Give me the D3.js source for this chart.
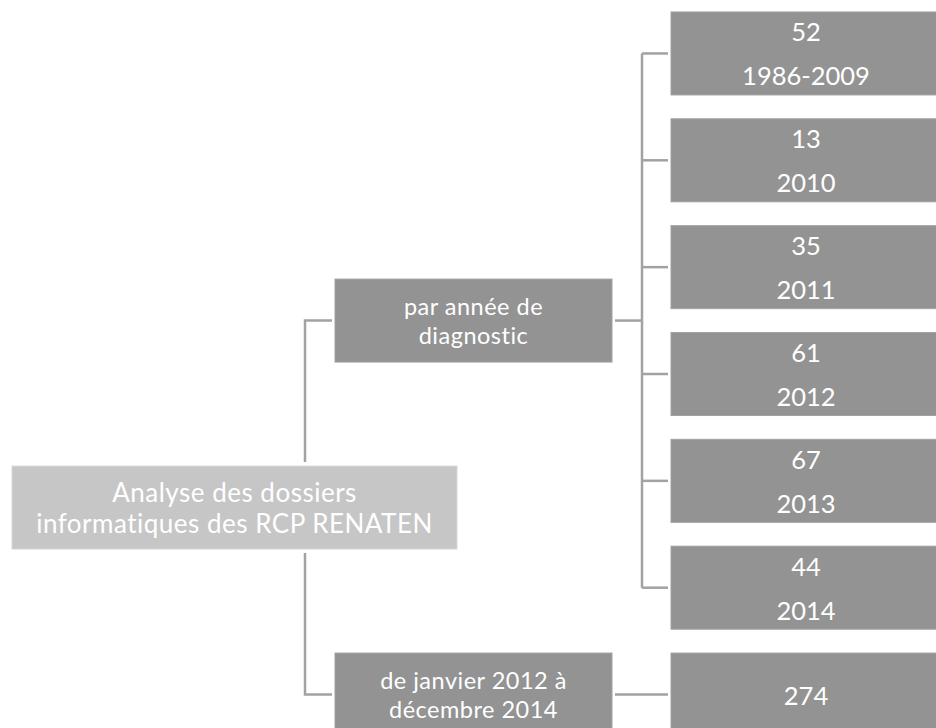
<!DOCTYPE html>
<html lang="fr">
  <head>
    <meta charset="utf-8">
    <title>RCP RENATEN</title>
    <script src="https://d3js.org/d3.v7.min.js"></script>
    <style>
      body { margin: 0; background: #fff; }
      text { font-family: Lato, 'Open Sans', sans-serif; fill: #fff; }
    </style>
  </head>
  <body>
    <script>
// données
const counts = [52, 13, 35, 61, 67, 44]
const periods = ['1986-2009', '2010', '2011', '2012', '2013', '2014']
const totalCount = 274
const rootLabel = ['Analyse des dossiers', 'informatiques des RCP RENATEN']
const branchLabels = [['par année de', 'diagnostic'], ['de janvier 2012 à', 'décembre 2014']]

const width = 936, height = 728
const boxH = 83
const gap = 3
const lineColor = '#a2a2a2'
const darkFill = '#939393'
const lightFill = '#c6c6c6'

const cols = {
  root: { x: 12, w: 445, line: 305 },
  branch: { x: 335, w: 277 },
  leaf: { x: 671, w: 270, line: 642 }
}

// rows of the right column: years, then total
const rows = d3.range(counts.length + 1)
const y = d3.scaleBand()
  .domain(rows)
  .range([12, 736])
  .paddingInner(0.224)

const mid = i => y(i) + y.bandwidth() / 2

const leaves = counts.map((c, i) => ({ lines: [c, periods[i]], row: i }))
const totalLeaf = { lines: [totalCount], row: counts.length }

const branches = [
  { lines: branchLabels[0], kids: leaves },
  { lines: branchLabels[1], kids: [totalLeaf] }
]
branches.forEach(b => { b.cy = d3.mean(b.kids, k => mid(k.row)) })
const rootCy = d3.mean(branches, b => b.cy)

const svg = d3.select('body').append('svg')
  .attr('width', width)
  .attr('height', height)

const links = svg.append('g')
  .attr('fill', 'none')
  .attr('stroke', lineColor)
  .attr('stroke-width', 2.5)

// root -> branches
const rootTop = rootCy - boxH / 2, rootBottom = rootCy + boxH / 2
branches.forEach(b => {
  const start = b.cy < rootCy ? rootTop - 4 : rootBottom + 4
  links.append('path')
    .attr('d', d3.line()([[cols.root.line, start], [cols.root.line, b.cy], [cols.branch.x - gap, b.cy]]))
})

// branches -> leaves
const bRight = cols.branch.x + cols.branch.w + gap
branches.forEach(b => {
  if (b.kids.length > 1) {
    links.append('path')
      .attr('d', d3.line()([[bRight, b.cy], [cols.leaf.line, b.cy]]))
    links.append('path')
      .attr('d', d3.line()([[cols.leaf.line, d3.min(b.kids, k => mid(k.row))], [cols.leaf.line, d3.max(b.kids, k => mid(k.row))]]))
    b.kids.forEach(k => {
      links.append('path')
        .attr('d', d3.line()([[cols.leaf.line, mid(k.row)], [cols.leaf.x - gap, mid(k.row)]]))
    })
  } else {
    links.append('path')
      .attr('d', d3.line()([[bRight, b.cy], [cols.leaf.x - gap, b.cy]]))
  }
})

function drawBox(g, x, cy, w, fill, lines, size, spread, tracking = 0) {
  g.append('rect')
    .attr('x', x)
    .attr('y', cy - boxH / 2)
    .attr('width', w)
    .attr('height', boxH)
    .attr('fill', fill)
    .attr('stroke', d3.color(fill).brighter(0.25))
    .attr('stroke-width', 1)
  const n = lines.length
  // one text per box, lines as tspans
  g.append('text')
    .attr('text-anchor', 'middle')
    .style('font-size', size + 'px')
    .style('letter-spacing', tracking + 'px')
    .selectAll('tspan')
    .data(lines)
    .join('tspan')
    .attr('x', x + w / 2)
    .attr('y', (d, i) => cy + (i - (n - 1) / 2) * spread)
    .attr('dominant-baseline', 'central')
    .text(d => d)
}

const boxes = svg.append('g')

drawBox(boxes, cols.root.x, rootCy, cols.root.w, lightFill, rootLabel, 26, 31.5, 0.5)
branches.forEach(b => drawBox(boxes, cols.branch.x, b.cy, cols.branch.w, darkFill, b.lines, 23.5, 28.5, 0.5))
leaves.concat([totalLeaf]).forEach(k =>
  drawBox(boxes, cols.leaf.x, mid(k.row), cols.leaf.w, darkFill, k.lines, 25.5, 44))
    </script>
  </body>
</html>
